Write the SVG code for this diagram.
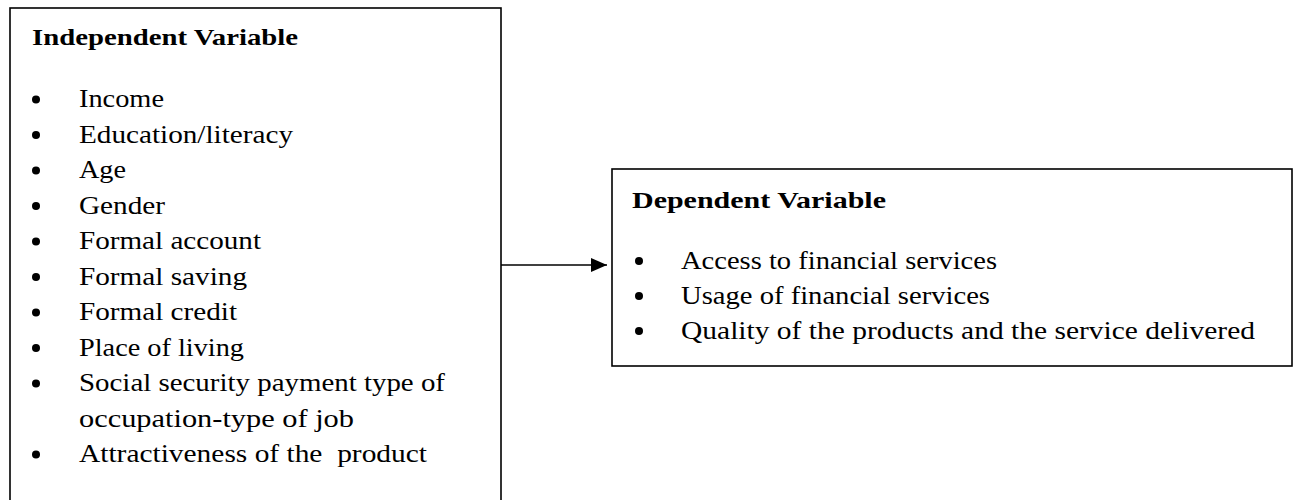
<svg xmlns="http://www.w3.org/2000/svg" width="1301" height="500" viewBox="0 0 1301 500">
<style>
.box{fill:#fff;stroke:#000;stroke-width:1.6}
.t{font-family:"Liberation Serif","Times New Roman",serif;font-size:26px;fill:#000}
.h{font-family:"Liberation Serif","Times New Roman",serif;font-size:24px;font-weight:bold;fill:#000}
.b{fill:#000}
.edge{stroke:#000;stroke-width:1.6;fill:none}
</style>
<defs>
<marker id="ah" markerWidth="16" markerHeight="14" refX="16" refY="7" orient="auto" markerUnits="userSpaceOnUse" viewBox="0 0 16 14">
<path d="M0,0 L16,7 L0,14 z" fill="#000"/>
</marker>
</defs>
<rect width="1301" height="500" fill="#fff"/>
<g id="independent">
<rect class="box" x="10" y="8" width="491" height="510"/>
<text class="h" x="32" y="45" textLength="266" lengthAdjust="spacingAndGlyphs">Independent Variable</text>
<g class="b">
<circle cx="36" cy="99.5" r="4"/>
<circle cx="36" cy="135" r="4"/>
<circle cx="36" cy="170.5" r="4"/>
<circle cx="36" cy="206" r="4"/>
<circle cx="36" cy="241.5" r="4"/>
<circle cx="36" cy="277" r="4"/>
<circle cx="36" cy="312.5" r="4"/>
<circle cx="36" cy="348" r="4"/>
<circle cx="36" cy="383.5" r="4"/>
<circle cx="36" cy="454.5" r="4"/>
</g>
<text class="t" x="79" y="107" textLength="85" lengthAdjust="spacingAndGlyphs">Income</text>
<text class="t" x="79" y="142.5" textLength="214" lengthAdjust="spacingAndGlyphs">Education/literacy</text>
<text class="t" x="79" y="178" textLength="47" lengthAdjust="spacingAndGlyphs">Age</text>
<text class="t" x="79" y="213.5" textLength="86" lengthAdjust="spacingAndGlyphs">Gender</text>
<text class="t" x="79" y="249" textLength="182" lengthAdjust="spacingAndGlyphs">Formal account</text>
<text class="t" x="79" y="284.5" textLength="168" lengthAdjust="spacingAndGlyphs">Formal saving</text>
<text class="t" x="79" y="320" textLength="158" lengthAdjust="spacingAndGlyphs">Formal credit</text>
<text class="t" x="79" y="355.5" textLength="165" lengthAdjust="spacingAndGlyphs">Place of living</text>
<text class="t" x="79" y="391" textLength="366" lengthAdjust="spacingAndGlyphs">Social security payment type of</text>
<text class="t" x="79" y="426.5" textLength="275" lengthAdjust="spacingAndGlyphs">occupation-type of job</text>
<text class="t" x="79" y="462" textLength="348" lengthAdjust="spacingAndGlyphs" xml:space="preserve">Attractiveness of the  product</text>
</g>
<g id="dependent">
<rect class="box" x="612" y="169" width="680" height="197"/>
<text class="h" x="632" y="208" textLength="254" lengthAdjust="spacingAndGlyphs">Dependent Variable</text>
<g class="b">
<circle cx="639" cy="261" r="4"/>
<circle cx="639" cy="296" r="4"/>
<circle cx="639" cy="331" r="4"/>
</g>
<text class="t" x="681" y="268.5" textLength="316" lengthAdjust="spacingAndGlyphs">Access to financial services</text>
<text class="t" x="681" y="303.5" textLength="309" lengthAdjust="spacingAndGlyphs">Usage of financial services</text>
<text class="t" x="681" y="338.5" textLength="574" lengthAdjust="spacingAndGlyphs">Quality of the products and the service delivered</text>
</g>
<g id="connectors">
<path class="edge" d="M501,265 L607,265" marker-end="url(#ah)"/>
</g>
</svg>
